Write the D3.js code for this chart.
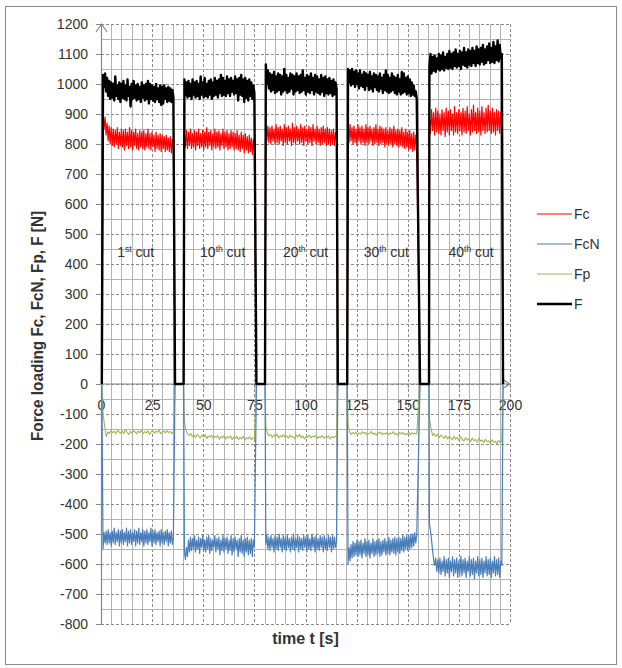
<!DOCTYPE html>
<html>
<head>
<meta charset="utf-8">
<script src="https://cdn.jsdelivr.net/npm/d3@7/dist/d3.min.js"></script>
<style>
  body { margin: 0; background: #fff; }
  svg text { font-family: "Liberation Sans", Arial, sans-serif; fill: #333; }
</style>
</head>
<body>
<svg id="chart" width="622" height="668"></svg>
<script>
// ─── Data ─────────────────────────────────────────────────────────────────────
const seriesNames  = ["Fc", "FcN", "Fp", "F"];
const seriesColors = ["#ff0000", "#4a7ebb", "#98b954", "#000000"];

const xTicks = [0, 25, 50, 75, 100, 125, 150, 175, 200];
const yTicks = [-800, -700, -600, -500, -400, -300, -200, -100, 0,
                100, 200, 300, 400, 500, 600, 700, 800, 900, 1000, 1100, 1200];

// cut annotations
const cutNumbers  = ["1", "10", "20", "30", "40"];
const cutSuffixes = ["st", "th", "th", "th", "th"];
const cutLabelT   = [17, 59.5, 100, 139.5, 181];
const cutLabelV   = 440;

// timing of each cut [s]
const riseAt   = [0.4, 40.4, 80.2, 120.4, 160.4];
const cutStart = [1.0, 40.8, 80.6, 120.8, 160.6];
const cutEnd   = [35.4, 75.0, 115.2, 154.4, 196.0];
const fallAt   = [36.2, 76.0, 115.8, 156.0, 196.6];

// F [N], one array per cut
const F1 = [1030, 990, 1035, 975, 1020, 960, 1010, 950, 1005, 955,
            1000, 945, 1025, 960, 995, 950, 1005, 940, 1000, 955,
            1010, 950, 995, 945, 1015, 960, 990, 925, 1000, 950,
            1010, 955, 995, 945, 1000, 950, 990, 940, 1005, 955,
            995, 945, 1000, 950, 1010, 935, 1000, 950, 995, 945,
            990, 940, 1000, 950, 985, 940, 995, 930, 990, 935,
            995, 950, 985, 940, 990, 945, 985, 940, 980, 955];
const F2 = [1015, 965, 1005, 955, 1010, 960, 1000, 950, 1015, 965,
            1005, 955, 1010, 960, 1000, 950, 1025, 965, 1005, 955,
            1020, 960, 1000, 955, 1010, 965, 1015, 950, 1005, 960,
            1020, 965, 1010, 955, 1015, 970, 1030, 960, 1020, 965,
            1010, 960, 1025, 970, 1015, 960, 1020, 975, 1010, 965,
            1025, 970, 1015, 945, 1020, 965, 1030, 960, 1015, 940,
            1020, 955, 1010, 945, 1015, 960, 1005, 950, 995, 970];
const F3 = [1065, 1000, 1045, 985, 1035, 975, 1030, 980, 1040, 970,
            1025, 975, 1035, 980, 1030, 965, 1025, 975, 1050, 980,
            1030, 970, 1020, 975, 1035, 985, 1030, 965, 1025, 975,
            1035, 980, 1025, 970, 1030, 975, 1045, 980, 1020, 965,
            1030, 975, 1025, 970, 1035, 980, 1020, 965, 1030, 975,
            1025, 970, 1015, 965, 1030, 975, 1020, 960, 1025, 970,
            1015, 965, 1020, 970, 1010, 960, 1015, 965, 1005, 985];
const F4 = [1050, 1005, 1045, 995, 1050, 1000, 1040, 990, 1045, 1000,
            1035, 985, 1045, 995, 1030, 990, 1040, 980, 1035, 995,
            1030, 980, 1040, 985, 1025, 975, 1035, 990, 1030, 980,
            1025, 975, 1035, 985, 1020, 970, 1030, 980, 1045, 975,
            1030, 970, 1020, 975, 1035, 980, 1025, 970, 1020, 965,
            1030, 975, 1015, 965, 1040, 970, 1035, 975, 1020, 965,
            1025, 970, 1015, 960, 1005, 965, 995, 960, 975, 950];
const F5 = [1060, 1100, 1035, 1090, 1045, 1095, 1040, 1085, 1050, 1100,
            1045, 1095, 1050, 1105, 1045, 1090, 1055, 1100, 1050, 1110,
            1055, 1100, 1050, 1105, 1060, 1115, 1055, 1100, 1060, 1110,
            1050, 1105, 1065, 1120, 1060, 1105, 1055, 1115, 1065, 1110,
            1060, 1120, 1070, 1110, 1060, 1125, 1070, 1115, 1065, 1120,
            1075, 1130, 1065, 1115, 1070, 1125, 1080, 1135, 1070, 1120,
            1075, 1140, 1070, 1125, 1080, 1145, 1075, 1130, 1085, 1100];

// Fc [N]
const Fc1 = [905, 850, 890, 830, 870, 810, 860, 800, 855, 795,
             850, 790, 845, 800, 855, 785, 840, 795, 850, 790,
             845, 780, 850, 795, 840, 785, 855, 790, 845, 780,
             840, 795, 850, 785, 835, 780, 845, 790, 840, 785,
             845, 780, 835, 790, 850, 785, 835, 780, 840, 790,
             830, 775, 840, 785, 830, 780, 835, 775, 830, 785,
             825, 775, 830, 780, 820, 775, 825, 770, 815, 790];
const Fc2 = [830, 790, 845, 785, 840, 795, 850, 785, 835, 790,
             845, 780, 840, 795, 850, 785, 835, 790, 845, 780,
             840, 790, 855, 785, 840, 795, 845, 780, 835, 790,
             850, 785, 840, 790, 845, 780, 835, 795, 850, 785,
             840, 790, 845, 780, 835, 785, 845, 790, 840, 780,
             835, 785, 845, 780, 830, 775, 840, 785, 830, 770,
             835, 780, 825, 770, 830, 775, 820, 765, 815, 780];
const Fc3 = [865, 810, 860, 805, 855, 800, 860, 810, 850, 800,
             865, 805, 855, 800, 860, 810, 850, 795, 865, 805,
             855, 800, 860, 810, 850, 795, 870, 805, 855, 800,
             860, 810, 850, 800, 865, 805, 855, 795, 860, 810,
             850, 800, 860, 805, 855, 795, 865, 810, 850, 800,
             860, 805, 850, 795, 855, 800, 860, 805, 850, 795,
             855, 800, 850, 795, 845, 800, 850, 795, 840, 810];
const Fc4 = [860, 805, 865, 810, 855, 800, 860, 805, 850, 795,
             865, 810, 855, 800, 860, 805, 850, 795, 865, 805,
             855, 800, 860, 810, 850, 795, 855, 800, 865, 805,
             850, 795, 860, 800, 855, 805, 850, 790, 855, 800,
             845, 795, 855, 800, 850, 790, 860, 800, 845, 795,
             850, 790, 845, 795, 855, 790, 840, 785, 850, 790,
             840, 780, 845, 785, 835, 775, 840, 780, 830, 785];
const Fc5 = [890, 835, 915, 845, 905, 830, 920, 840, 910, 835,
             900, 830, 915, 845, 905, 825, 920, 840, 910, 830,
             915, 845, 900, 830, 925, 840, 905, 835, 915, 845,
             905, 830, 920, 840, 910, 835, 925, 845, 900, 830,
             915, 840, 930, 845, 905, 835, 920, 840, 910, 830,
             925, 845, 905, 835, 920, 840, 930, 845, 910, 835,
             920, 840, 905, 830, 915, 845, 910, 835, 905, 850];

// FcN [N]
const FcN1 = [-550, -495, -530, -490, -535, -485, -530, -495, -540, -490,
              -530, -480, -535, -495, -525, -485, -540, -490, -530, -485,
              -535, -495, -525, -480, -540, -490, -530, -485, -535, -495,
              -525, -485, -540, -490, -530, -480, -535, -495, -525, -485,
              -540, -490, -530, -485, -535, -495, -525, -480, -540, -490,
              -530, -485, -535, -495, -525, -490, -540, -485, -530, -495,
              -535, -490, -525, -485, -540, -495, -530, -490, -535, -510];
const FcN2 = [-560, -585, -545, -575, -520, -560, -510, -555, -515, -550,
              -505, -560, -520, -550, -510, -565, -515, -545, -505, -555,
              -520, -560, -510, -550, -505, -565, -515, -555, -520, -545,
              -505, -560, -515, -550, -510, -570, -520, -555, -505, -560,
              -515, -550, -510, -565, -520, -555, -505, -570, -515, -560,
              -510, -550, -520, -575, -515, -560, -505, -565, -520, -575,
              -515, -560, -510, -570, -520, -565, -515, -575, -520, -545];
const FcN3 = [-535, -505, -550, -510, -555, -505, -545, -515, -560, -505,
              -550, -510, -555, -500, -545, -515, -560, -505, -550, -510,
              -555, -505, -545, -515, -560, -510, -550, -500, -555, -515,
              -545, -505, -560, -510, -550, -515, -555, -505, -545, -510,
              -560, -505, -550, -515, -555, -500, -545, -510, -560, -505,
              -550, -515, -555, -505, -545, -510, -560, -505, -550, -515,
              -555, -505, -545, -510, -560, -505, -550, -510, -545, -525];
const FcN4 = [-600, -545, -590, -535, -580, -525, -575, -530, -570, -520,
              -575, -525, -570, -520, -580, -530, -565, -515, -575, -525,
              -570, -520, -580, -530, -565, -515, -575, -525, -570, -520,
              -565, -515, -575, -525, -570, -520, -560, -515, -570, -525,
              -565, -510, -570, -520, -560, -515, -565, -510, -570, -515,
              -560, -510, -565, -515, -555, -505, -560, -510, -550, -505,
              -555, -505, -550, -500, -545, -500, -540, -495, -530, -505];
const FcN5 = [-465, -490, -520, -555, -585, -605, -580, -625, -585, -630,
              -580, -635, -590, -625, -575, -640, -585, -630, -580, -645,
              -590, -625, -575, -640, -585, -630, -580, -645, -590, -635,
              -575, -640, -585, -630, -580, -645, -590, -625, -575, -640,
              -585, -635, -580, -650, -590, -630, -575, -640, -585, -635,
              -580, -645, -590, -630, -575, -640, -585, -635, -580, -645,
              -590, -630, -575, -640, -585, -635, -580, -645, -590, -605];

// Fp [N]
const Fp1 = [-100, -140, -175, -160, -165, -155, -162, -158, -166, -154, -160, -163, -157, -165, -152, -161, -168, -158, -163, -155, -160, -166, -157, -162, -154, -165, -159, -163, -156, -168, -160, -155, -164, -158, -161, -153, -166, -160, -157, -163, -155, -162, -158, -165, -160];
const Fp2 = [-125, -155, -168, -172, -165, -176, -170, -178, -168, -174, -180, -171, -176, -169, -182, -173, -177, -170, -181, -174, -178, -172, -184, -175, -179, -171, -183, -176, -180, -173, -185, -177, -181, -174, -186, -178, -182, -175, -187, -179, -183, -176, -185, -180, -182];
const Fp3 = [-140, -165, -172, -168, -178, -170, -175, -167, -180, -172, -176, -169, -178, -173, -181, -170, -177, -174, -182, -171, -176, -168, -179, -173, -183, -175, -178, -170, -180, -174, -177, -171, -182, -175, -179, -172, -181, -176, -178, -173, -183, -175, -180, -174, -178];
const Fp4 = [-135, -160, -168, -162, -166, -160, -170, -163, -167, -159, -165, -161, -169, -164, -166, -158, -168, -163, -171, -162, -165, -160, -169, -164, -167, -161, -170, -163, -166, -159, -168, -164, -171, -162, -167, -160, -169, -165, -168, -161, -170, -163, -167, -164, -166];
const Fp5 = [-115, -150, -172, -165, -175, -168, -178, -170, -176, -181, -172, -183, -175, -180, -186, -174, -184, -178, -188, -176, -185, -190, -179, -187, -182, -192, -180, -189, -185, -194, -182, -190, -187, -196, -184, -192, -189, -198, -186, -194, -191, -199, -188, -195, -192];

const seriesCuts = [
    [Fc1, Fc2, Fc3, Fc4, Fc5],
    [FcN1, FcN2, FcN3, FcN4, FcN5],
    [Fp1, Fp2, Fp3, Fp4, Fp5],
    [F1, F2, F3, F4, F5],
];
const seriesWidths = [1.2, 1.2, 1.1, 2.4];

// ─── Layout ───────────────────────────────────────────────────────────────────
const svg = d3.select("#chart");
const plot = { left: 101, right: 510, top: 24, bottom: 624 };

const x = d3.scaleLinear().domain([0, 200]).range([plot.left, plot.right]);
const y = d3.scaleLinear().domain([-800, 1200]).range([plot.bottom, plot.top]);

svg.append("rect")
    .attr("width", 622).attr("height", 668).attr("fill", "#fff");
svg.append("rect")
    .attr("x", 5.5).attr("y", 6.5).attr("width", 611).attr("height", 658)
    .attr("fill", "none").attr("stroke", "#8c8c8c");

// ─── Grid ─────────────────────────────────────────────────────────────────────
const grid = svg.append("g").attr("shape-rendering", "crispEdges");

d3.range(0, 201, 5).forEach(t => {
    const major = t % 25 === 0;
    grid.append("line")
        .attr("x1", Math.round(x(t)) + 0.5).attr("x2", Math.round(x(t)) + 0.5)
        .attr("y1", plot.top).attr("y2", plot.bottom)
        .attr("stroke", major ? "#8a8a8a" : "#b4b4b4")
        .attr("stroke-dasharray", major ? "3,2" : null);
});
d3.range(-800, 1201, 50).forEach(v => {
    const major = v % 100 === 0;
    grid.append("line")
        .attr("x1", plot.left).attr("x2", plot.right)
        .attr("y1", Math.round(y(v)) + 0.5).attr("y2", Math.round(y(v)) + 0.5)
        .attr("stroke", major ? "#8a8a8a" : "#b4b4b4")
        .attr("stroke-dasharray", major ? "3,2" : null);
});

// ─── Axes ─────────────────────────────────────────────────────────────────────
const yAxis = svg.append("g")
    .attr("transform", `translate(${plot.left},0)`)
    .call(d3.axisLeft(y).tickValues(yTicks).tickFormat(d => String(d))
        .tickSize(5).tickPadding(8));
yAxis.select(".domain").remove();
yAxis.selectAll("line").attr("stroke", "#888");
yAxis.selectAll("text").attr("font-size", 14).attr("fill", "#333")
    .style("font-family", "'Liberation Sans', Arial, sans-serif");

const xAxis = svg.append("g")
    .attr("transform", `translate(0,${y(0)})`)
    .call(d3.axisBottom(x).tickValues(xTicks).tickFormat(d => String(d))
        .tickSize(4).tickPadding(12));
xAxis.select(".domain").remove();
xAxis.selectAll("line").attr("stroke", "#888");
xAxis.selectAll("text").attr("font-size", 14).attr("fill", "#333")
    .style("font-family", "'Liberation Sans', Arial, sans-serif");

// axis lines with open arrow heads
svg.append("line")
    .attr("x1", plot.left + 0.5).attr("x2", plot.left + 0.5)
    .attr("y1", plot.top).attr("y2", plot.bottom)
    .attr("stroke", "#868686").attr("stroke-width", 1.2);
svg.append("path")
    .attr("d", `M${plot.left - 5},${plot.top + 8} L${plot.left + 0.5},${plot.top} L${plot.left + 6},${plot.top + 8}`)
    .attr("fill", "none").attr("stroke", "#868686").attr("stroke-width", 1.2);
svg.append("line")
    .attr("x1", plot.left).attr("x2", plot.right)
    .attr("y1", y(0)).attr("y2", y(0))
    .attr("stroke", "#868686").attr("stroke-width", 1.2);
svg.append("path")
    .attr("d", `M${plot.right - 8},${y(0) - 5} L${plot.right},${y(0)} L${plot.right - 8},${y(0) + 5}`)
    .attr("fill", "none").attr("stroke", "#868686").attr("stroke-width", 1.2);

// ─── Series ───────────────────────────────────────────────────────────────────
function buildSeries(cuts) {
    const pts = [];
    cuts.forEach((vals, k) => {
        pts.push([riseAt[k], 0]);
        const step = (cutEnd[k] - cutStart[k]) / (vals.length - 1);
        vals.forEach((v, i) => pts.push([cutStart[k] + i * step, v]));
        pts.push([fallAt[k], 0]);
    });
    return pts;
}

const line = d3.line().x(d => x(d[0])).y(d => y(d[1]));

// draw order: Fp, FcN, Fc, F (F on top)
[2, 1, 0, 3].forEach(s => {
    svg.append("path")
        .datum(buildSeries(seriesCuts[s]))
        .attr("d", line)
        .attr("fill", "none")
        .attr("stroke", seriesColors[s])
        .attr("stroke-width", seriesWidths[s])
        .attr("stroke-linejoin", "round");
});

// ─── Cut labels ───────────────────────────────────────────────────────────────
cutNumbers.forEach((n, i) => {
    const t = svg.append("text")
        .attr("x", x(cutLabelT[i])).attr("y", y(cutLabelV) + 5)
        .attr("text-anchor", "middle")
        .attr("font-size", 14);
    t.append("tspan").text(n);
    t.append("tspan").attr("font-size", 8.5).attr("dy", -5).text(cutSuffixes[i]);
    t.append("tspan").attr("dy", 5).text(" cut");
});

// ─── Axis titles ──────────────────────────────────────────────────────────────
// narrow bold title, centred on the plot like the original
svg.append("text")
    .attr("transform", `translate(43,${(plot.top + plot.bottom) / 2 + 2}) rotate(-90)`)
    .attr("text-anchor", "middle")
    .attr("font-size", 16).attr("font-weight", "bold").attr("fill", "#222")
    .attr("textLength", 230).attr("lengthAdjust", "spacingAndGlyphs")
    .text("Force loading Fc, FcN, Fp, F [N]");

svg.append("text")
    .attr("x", (plot.left + plot.right) / 2).attr("y", 644)
    .attr("text-anchor", "middle")
    .attr("font-size", 16).attr("font-weight", "bold").attr("fill", "#222")
    .text("time t [s]");

// ─── Legend ───────────────────────────────────────────────────────────────────
const legendY = [214, 244, 274, 304];
seriesNames.forEach((name, i) => {
    const g = svg.append("g").attr("transform", `translate(537,${legendY[i]})`);
    g.append("line")
        .attr("x1", 0).attr("x2", 35).attr("y1", 0).attr("y2", 0)
        .attr("stroke", seriesColors[i])
        .attr("stroke-width", i === 3 ? 2.4 : 1.2);
    g.append("text")
        .attr("x", 37).attr("y", 5)
        .attr("font-size", 14)
        .text(name);
});
</script>
</body>
</html>
